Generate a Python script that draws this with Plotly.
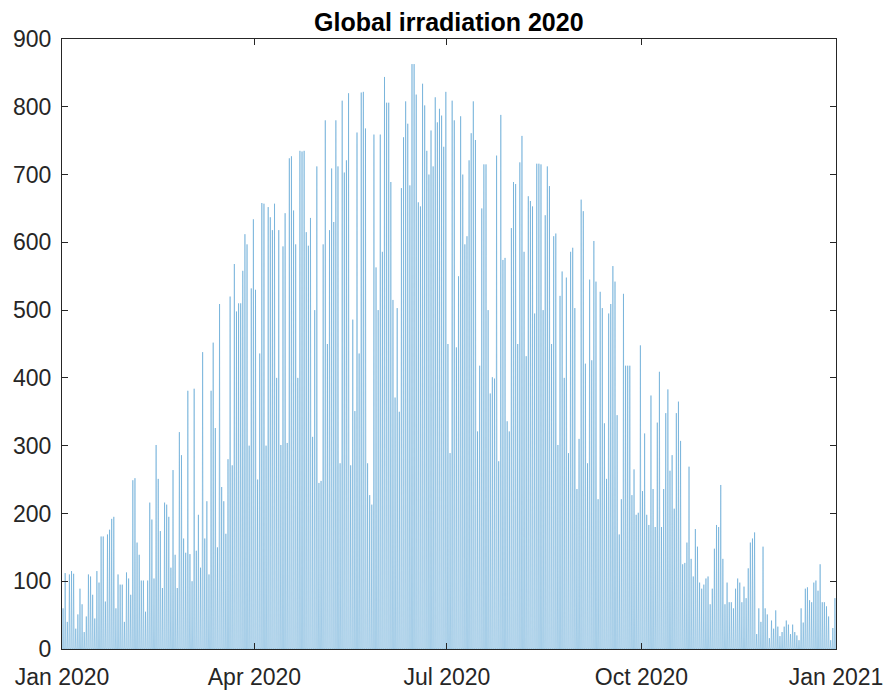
import datetime as dt
import plotly.graph_objects as go

# Daily peak global irradiation (W/m2), per month of 2020
jan = [60, 112, 40, 110, 115, 111, 30, 51, 89, 66, 25, 48, 110, 107, 80, 45,
       115, 98, 166, 166, 70, 169, 176, 192, 195, 60, 110, 95, 95, 40, 113]
feb = [104, 80, 249, 252, 157, 139, 101, 101, 55, 101, 216, 191, 104, 301, 251,
       174, 90, 216, 213, 195, 120, 264, 139, 90, 320, 286, 163, 142, 381]
mar = [140, 100, 384, 145, 198, 120, 438, 163, 218, 110, 381, 452, 326, 150, 509,
       239, 218, 170, 280, 520, 271, 568, 498, 510, 510, 558, 612, 597, 300, 532, 634]
apr = [530, 250, 436, 658, 657, 300, 652, 637, 618, 657, 400, 618, 301, 594, 643,
       304, 724, 727, 647, 597, 400, 735, 734, 735, 615, 595, 636, 313, 500, 712]
may = [245, 248, 597, 780, 450, 618, 709, 630, 780, 712, 274, 809, 703, 721, 820,
       271, 486, 351, 762, 436, 821, 822, 768, 274, 227, 213, 759, 563, 500, 759, 586]
jun = [844, 806, 806, 689, 515, 371, 503, 350, 680, 755, 808, 775, 684, 863, 863,
       818, 659, 653, 834, 802, 735, 700, 765, 712, 814, 777, 797, 787, 741, 822]
jul = [450, 289, 809, 780, 445, 550, 786, 700, 597, 609, 721, 761, 808, 751, 321,
       418, 650, 715, 715, 500, 377, 401, 399, 728, 277, 788, 574, 577, 336, 321, 621]
aug = [689, 686, 450, 718, 757, 586, 432, 668, 661, 653, 495, 716, 716, 715, 500,
       640, 712, 683, 450, 609, 613, 301, 521, 557, 400, 548, 289, 586, 592, 503, 236]
sep = [310, 663, 646, 421, 274, 545, 426, 602, 542, 221, 527, 503, 333, 251, 495,
       509, 565, 542, 345, 169, 221, 524, 418, 418, 418, 227, 265, 198, 201, 448]
oct_ = [233, 318, 198, 183, 374, 236, 180, 334, 409, 180, 236, 348, 383, 263, 286,
        207, 348, 365, 307, 125, 127, 157, 269, 133, 107, 177, 151, 98, 89, 95, 104]
nov = [107, 66, 89, 148, 183, 180, 242, 133, 66, 98, 69, 69, 60, 89, 104,
       98, 69, 92, 75, 119, 157, 163, 172, 22, 60, 40, 151, 60, 51, 16]
dec = [42, 30, 57, 33, 19, 25, 33, 42, 36, 22, 36, 25, 20, 13, 60, 39,
       89, 91, 72, 69, 98, 101, 86, 125, 69, 69, 63, 48, 13, 31, 75]

tick_dates = ["2020-01-01", "2020-04-01", "2020-07-01", "2020-10-01", "2021-01-01"]
tick_labels = ["Jan 2020", "Apr 2020", "Jul 2020", "Oct 2020", "Jan 2021"]
y_ticks = [0, 100, 200, 300, 400, 500, 600, 700, 800, 900]

peaks = jan + feb + mar + apr + may + jun + jul + aug + sep + oct_ + nov + dec
start = dt.datetime(2020, 1, 1)

xs, ys = [], []
for i, p in enumerate(peaks):
    day = start + dt.timedelta(days=i)
    xs += [day + dt.timedelta(hours=6), day + dt.timedelta(hours=12),
           day + dt.timedelta(hours=18)]
    ys += [0, p, 0]

fig = go.Figure()
fig.add_trace(go.Scatter(x=xs, y=ys, mode="lines",
                         line=dict(color="#0072BD", width=0.5), opacity=0.7,
                         showlegend=False, hoverinfo="skip"))

axis_common = dict(showline=True, linecolor="#262626", linewidth=1, mirror="ticks",
                   ticks="inside", ticklen=6, tickcolor="#262626", showgrid=False,
                   zeroline=False, automargin=False,
                   tickfont=dict(family="Liberation Sans, Arial", size=23, color="#262626"))

fig.update_layout(
    width=887, height=690,
    margin=dict(l=62, r=51, t=39, b=41),
    paper_bgcolor="white", plot_bgcolor="white",
    title=dict(text="<b>Global irradiation 2020</b>", x=0.506, xanchor="center",
               y=0.968, yanchor="middle",
               font=dict(family="Liberation Sans, Arial", size=25, color="black")),
    xaxis=dict(type="date", range=["2020-01-01", "2021-01-01"],
               tickvals=tick_dates, ticktext=tick_labels, ticklabelstandoff=7,
               **axis_common),
    yaxis=dict(range=[0, 900], tickvals=y_ticks, ticklabelstandoff=5, **axis_common),
)

fig.write_html("out.html", config={"displayModeBar": False},
               post_script="document.body.style.margin='0px';")
